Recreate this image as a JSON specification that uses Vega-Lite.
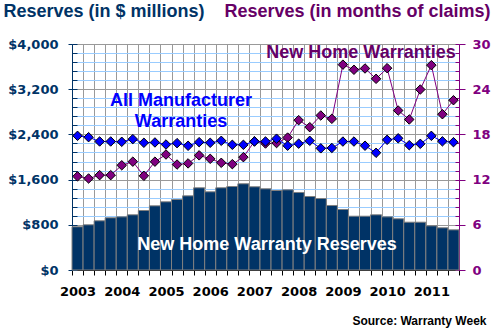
{
  "$schema": "https://vega.github.io/schema/vega-lite/v6.json",
  "width": 387,
  "height": 226,
  "autosize": "none",
  "padding": {"left": 72, "top": 44, "right": 34, "bottom": 61},
  "background": "white",
  "config": {
    "view": {"stroke": null},
    "axis": {"labelFont": "DejaVu Sans", "labelFontWeight": "bold", "labelFontSize": 13, "titleFont": "Liberation Sans", "titleFontWeight": "bold", "labelOverlap": false}
  },
  "data": {
    "values": [
      {"q": "2003Q1", "res": 765, "nhw": 12.43, "amw": 17.81},
      {"q": "2003Q2", "res": 800, "nhw": 12.15, "amw": 17.63},
      {"q": "2003Q3", "res": 871, "nhw": 12.59, "amw": 17.06},
      {"q": "2003Q4", "res": 924, "nhw": 12.59, "amw": 17.06},
      {"q": "2004Q1", "res": 941, "nhw": 13.9, "amw": 17.02},
      {"q": "2004Q2", "res": 977, "nhw": 14.38, "amw": 17.37},
      {"q": "2004Q3", "res": 1053, "nhw": 12.5, "amw": 16.89},
      {"q": "2004Q4", "res": 1136, "nhw": 14.38, "amw": 16.93},
      {"q": "2005Q1", "res": 1207, "nhw": 15.33, "amw": 16.66},
      {"q": "2005Q2", "res": 1248, "nhw": 14.0, "amw": 16.84},
      {"q": "2005Q3", "res": 1313, "nhw": 14.15, "amw": 16.49},
      {"q": "2005Q4", "res": 1455, "nhw": 15.22, "amw": 16.97},
      {"q": "2006Q1", "res": 1384, "nhw": 14.76, "amw": 16.89},
      {"q": "2006Q2", "res": 1455, "nhw": 14.23, "amw": 17.15},
      {"q": "2006Q3", "res": 1478, "nhw": 14.05, "amw": 16.62},
      {"q": "2006Q4", "res": 1526, "nhw": 14.98, "amw": 16.62},
      {"q": "2007Q1", "res": 1473, "nhw": 17.08, "amw": 17.06},
      {"q": "2007Q2", "res": 1437, "nhw": 16.79, "amw": 17.06},
      {"q": "2007Q3", "res": 1407, "nhw": 16.85, "amw": 17.43},
      {"q": "2007Q4", "res": 1419, "nhw": 17.58, "amw": 16.5},
      {"q": "2008Q1", "res": 1372, "nhw": 19.89, "amw": 16.77},
      {"q": "2008Q2", "res": 1301, "nhw": 18.96, "amw": 17.15},
      {"q": "2008Q3", "res": 1265, "nhw": 20.51, "amw": 16.15},
      {"q": "2008Q4", "res": 1142, "nhw": 20.07, "amw": 16.2},
      {"q": "2009Q1", "res": 1071, "nhw": 27.26, "amw": 17.05},
      {"q": "2009Q2", "res": 952, "nhw": 26.58, "amw": 17.05},
      {"q": "2009Q3", "res": 952, "nhw": 26.75, "amw": 16.5},
      {"q": "2009Q4", "res": 977, "nhw": 25.38, "amw": 15.56},
      {"q": "2010Q1", "res": 941, "nhw": 26.79, "amw": 17.28},
      {"q": "2010Q2", "res": 906, "nhw": 21.17, "amw": 17.48},
      {"q": "2010Q3", "res": 846, "nhw": 19.98, "amw": 16.57},
      {"q": "2010Q4", "res": 846, "nhw": 23.96, "amw": 16.75},
      {"q": "2011Q1", "res": 782, "nhw": 27.19, "amw": 17.81},
      {"q": "2011Q2", "res": 747, "nhw": 20.68, "amw": 17.08},
      {"q": "2011Q3", "res": 711, "nhw": 22.54, "amw": 16.97}
    ]
  },
  "resolve": {"scale": {"y": "independent"}, "axis": {"y": "independent"}},
  "layer": [
    {
      "mark": {"type": "bar", "color": "#003366", "stroke": "#808080", "strokeWidth": 1},
      "encoding": {
        "x": {
          "field": "q", "type": "ordinal",
          "scale": {"type": "band", "paddingInner": 0, "paddingOuter": 0},
          "axis": {
            "title": "Source: Warranty Week", "titleX": 414, "titleY": 54, "titleAlign": "right", "titleBaseline": "alphabetic", "titleFontSize": 12, "titleColor": "#000000",
            "labelExpr": "substring(datum.label, 4, 6) == 'Q1' ? substring(datum.label, 0, 4) : ''",
            "labelAngle": 0, "labelColor": "#000000", "labelPadding": 10, "labelAlign": "center",
            "tickBand": "extent", "tickColor": "#000000", "tickSize": 5,
            "grid": true, "gridColor": "#999999", "gridOpacity": 1,
            "domainColor": "#000000"
          }
        },
        "y": {
          "field": "res", "type": "quantitative",
          "scale": {"domain": [0, 4000], "nice": false},
          "axis": {
            "title": "Reserves (in $ millions)", "titleAngle": 0, "titleX": -69, "titleY": -28, "titleAlign": "left", "titleBaseline": "alphabetic", "titleFontSize": 18, "titleColor": "#003366",
            "values": [0, 800, 1600, 2400, 3200, 4000], "format": "$,.0f",
            "labelColor": "#003366", "labelPadding": 10,
            "tickColor": "#003366", "tickSize": 4,
            "domainColor": "#003366",
            "grid": true, "gridColor": "#999999", "gridOpacity": 1
          }
        }
      }
    },
    {
      "mark": {"type": "line", "color": "#800080", "strokeWidth": 1,
        "point": {"shape": "diamond", "filled": true, "fill": "#800080", "stroke": "#000000", "strokeWidth": 1, "size": 90, "opacity": 1}},
      "encoding": {
        "x": {"field": "q", "type": "ordinal", "scale": {"type": "band", "paddingInner": 0, "paddingOuter": 0}},
        "y": {
          "field": "nhw", "type": "quantitative",
          "scale": {"domain": [0, 30], "nice": false},
          "axis": {
            "orient": "right",
            "title": "Reserves (in months of claims)", "titleAngle": 0, "titleX": 31, "titleY": -28, "titleAlign": "right", "titleBaseline": "alphabetic", "titleFontSize": 18, "titleColor": "#660066",
            "values": [0, 6, 12, 18, 24, 30],
            "labelColor": "#800080", "labelPadding": 7,
            "tickColor": "#800080", "tickSize": 6,
            "domainColor": "#800080", "grid": false
          }
        }
      }
    },
    {
      "mark": {"type": "line", "color": "#0000FF", "strokeWidth": 1,
        "point": {"shape": "diamond", "filled": true, "fill": "#0000FF", "stroke": "#000000", "strokeWidth": 1, "size": 90, "opacity": 1}},
      "encoding": {
        "x": {"field": "q", "type": "ordinal", "scale": {"type": "band", "paddingInner": 0, "paddingOuter": 0}},
        "y": {
          "field": "amw", "type": "quantitative",
          "scale": {"domain": [0, 30], "nice": false},
          "axis": {
            "orient": "right", "title": null,
            "values": [1.2, 2.4, 3.6, 4.8, 7.2, 8.4, 9.6, 10.8, 13.2, 14.4, 15.6, 16.8, 19.2, 20.4, 21.6, 22.8, 25.2, 26.4, 27.6, 28.8],
            "labels": false, "domain": false,
            "tickColor": "#800080", "tickSize": -4,
            "grid": true, "gridColor": "#99CCFF", "gridOpacity": 1
          }
        }
      }
    },
    {
      "data": {"values": [{}]},
      "mark": {"type": "text", "text": "New Home Warranties", "font": "Liberation Sans", "fontSize": 18, "fontWeight": "bold", "color": "#660066", "align": "center", "baseline": "alphabetic", "dx": -4},
      "encoding": {
        "x": {"datum": "2009Q3", "type": "ordinal", "scale": {"type": "band", "paddingInner": 0, "paddingOuter": 0}},
        "y": {
          "datum": 28.2, "type": "quantitative",
          "scale": {"domain": [0, 30], "nice": false},
          "axis": {
            "orient": "left", "title": null,
            "values": [1.2, 2.4, 3.6, 4.8, 7.2, 8.4, 9.6, 10.8, 13.2, 14.4, 15.6, 16.8, 19.2, 20.4, 21.6, 22.8, 25.2, 26.4, 27.6, 28.8],
            "labels": false, "domain": false, "grid": false,
            "tickColor": "#003366", "tickSize": -5
          }
        }
      }
    },
    {
      "data": {"values": [{}]},
      "mark": {"type": "text", "text": ["All Manufacturer", "Warranties"], "lineHeight": 21, "font": "Liberation Sans", "fontSize": 18, "fontWeight": "bold", "color": "#0000FF", "align": "center", "baseline": "alphabetic", "dx": 4},
      "encoding": {
        "x": {"datum": "2005Q2", "type": "ordinal", "scale": {"type": "band", "paddingInner": 0, "paddingOuter": 0}},
        "y": {
          "datum": 21.77, "type": "quantitative",
          "scale": {"domain": [0, 30], "nice": false},
          "axis": {
            "orient": "left", "title": null,
            "values": [0, 6, 12, 18, 24, 30],
            "labels": false, "domain": false, "grid": false,
            "tickColor": "#003366", "tickSize": -5
          }
        }
      }
    },
    {
      "data": {"values": [{}]},
      "mark": {"type": "text", "text": "New Home Warranty Reserves", "font": "Liberation Sans", "fontSize": 18, "fontWeight": "bold", "color": "#FFFFFF", "align": "center", "baseline": "alphabetic", "dx": 1.5},
      "encoding": {
        "x": {"datum": "2007Q2", "type": "ordinal", "scale": {"type": "band", "paddingInner": 0, "paddingOuter": 0}},
        "y": {
          "datum": 2.65, "type": "quantitative",
          "scale": {"domain": [0, 30], "nice": false},
          "axis": {
            "orient": "right", "title": null,
            "values": [0, 6, 12, 18, 24, 30],
            "labels": false, "domain": false, "grid": false,
            "tickColor": "#800080", "tickSize": -4
          }
        }
      }
    }
  ]
}
